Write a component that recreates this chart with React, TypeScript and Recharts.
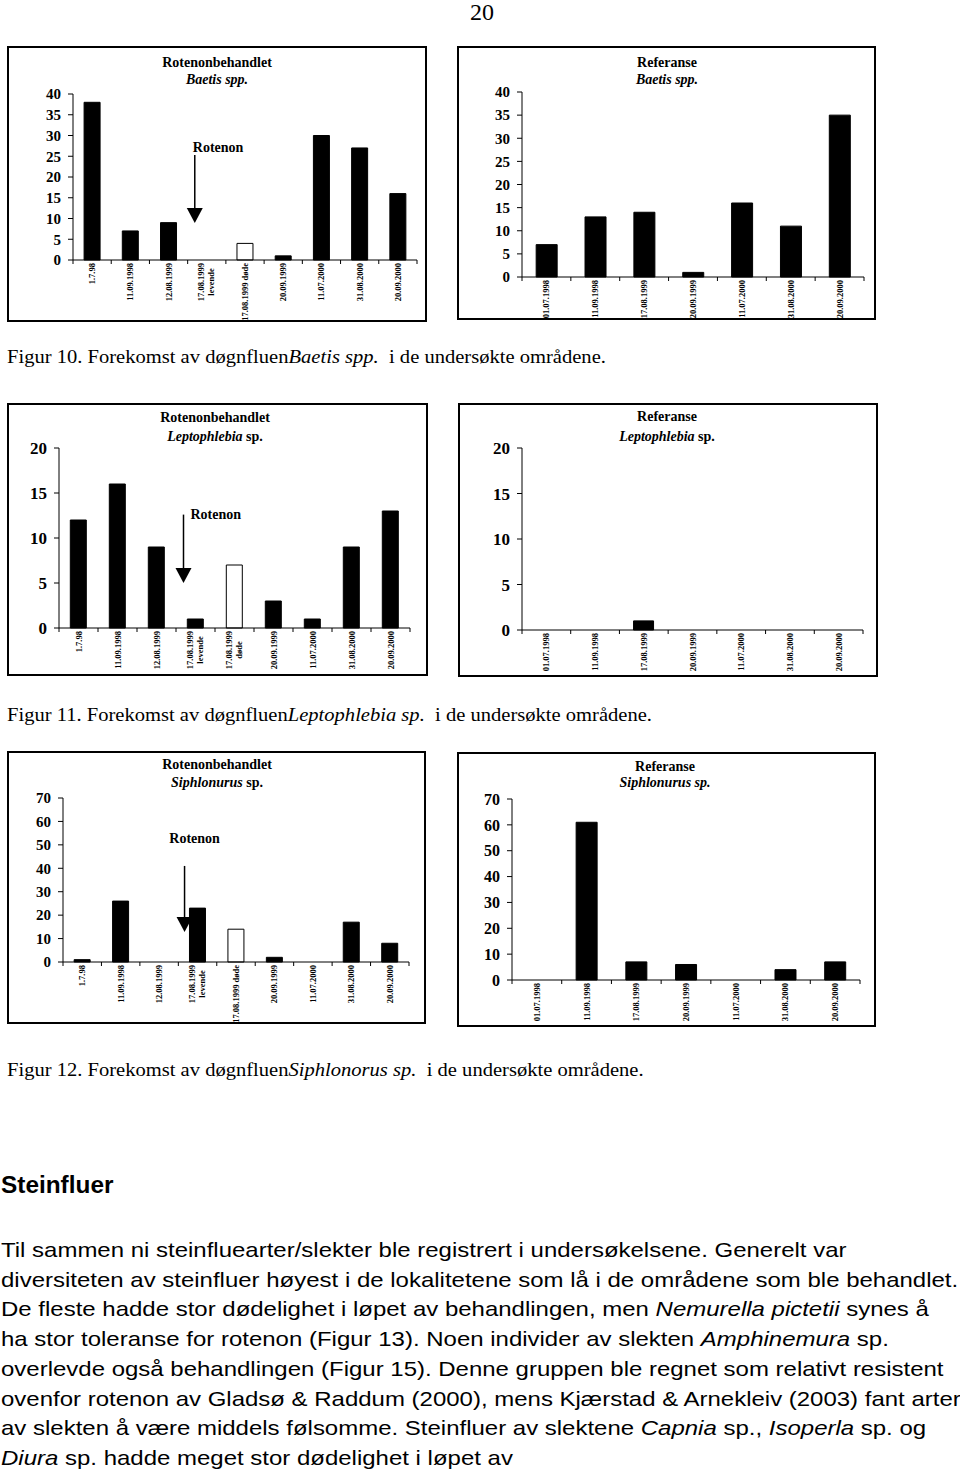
import React from 'react';
import { BarChart, Bar, XAxis, YAxis, Cell, ReferenceLine } from 'recharts';

// categories ('|' splits a label over two lines)
const rotCats = ['1.7.98', '11.09.1998', '12.08.1999', '17.08.1999|levende', '17.08.1999 døde', '20.09.1999', '11.07.2000', '31.08.2000', '20.09.2000'];
const leptoRotCats = ['1.7.98', '11.09.1998', '12.08.1999', '17.08.1999|levende', '17.08.1999|døde', '20.09.1999', '11.07.2000', '31.08.2000', '20.09.2000'];
const refCats = ['01.07.1998', '11.09.1998', '17.08.1999', '20.09.1999', '11.07.2000', '31.08.2000', '20.09.2000'];

// counts
const baetisRot = [38, 7, 9, 0, 4, 1, 30, 27, 16];
const baetisRef = [7, 13, 14, 1, 16, 11, 35];
const leptoRot = [12, 16, 9, 1, 7, 3, 1, 9, 13];
const leptoRef = [0, 0, 1, 0, 0, 0, 0];
const siphRot = [1, 26, 0, 23, 14, 2, 0, 17, 8];
const siphRef = [0, 61, 7, 6, 0, 4, 7];

const baetisTicks = [0, 5, 10, 15, 20, 25, 30, 35, 40];
const leptoTicks = [0, 5, 10, 15, 20];
const siphTicks = [0, 10, 20, 30, 40, 50, 60, 70];

const DEAD = 4; // "døde" column drawn hollow
const SERIF = '"Liberation Serif", "Times New Roman", serif';
const SANS = '"Liberation Sans", Arial, sans-serif';
const STRETCH = 'scaleX(1.142)'; // the scanned page text is a bit wide

type Frame = { x: number; y: number; w: number; h: number };
type Plot = { left: number; top: number; right: number; bottom: number };
type Arrow = { from: number; to: number; dx: number; tx: number; ty: number; anchor: 'start' | 'middle' };

const XTick = (props: any) => {
  const { x, y, payload, index, step } = props;
  const lines = String(payload.value).split('|');
  const multi = lines.length > 1;
  return (
    <g>
      {index === 0 && <line x1={x - step / 2} x2={x - step / 2} y1={y} y2={y + 4} stroke="#000" />}
      <line x1={x + step / 2} x2={x + step / 2} y1={y} y2={y + 4} stroke="#000" />
      <g transform={`translate(${x},${y + (multi ? 22 : 3)})`}>
        <text transform="rotate(-90)" textAnchor={multi ? 'middle' : 'end'} fontSize={8.5} fontWeight="bold" fontFamily={SERIF} fill="#000">
          {lines.map((l, i) => (
            <tspan key={i} x={0} dy={i === 0 ? (multi ? -3 : 3) : 10}>{l}</tspan>
          ))}
        </text>
      </g>
    </g>
  );
};

const arrowShape = (a: Arrow) => (p: any) => {
  const x = p.x1 + a.dx;
  const top = Math.min(p.y1, p.y2);
  const tip = Math.max(p.y1, p.y2);
  return (
    <g>
      <line x1={x} x2={x} y1={top} y2={tip - 12} stroke="#000" strokeWidth={1.5} />
      <polygon points={`${x - 8},${tip - 15} ${x + 8},${tip - 15} ${x},${tip}`} fill="#000" />
      <text x={x + a.tx} y={top + a.ty} textAnchor={a.anchor} dominantBaseline="central" fontSize={14} fontWeight="bold" fontFamily={SERIF} fill="#000">Rotenon</text>
    </g>
  );
};

type PanelProps = {
  frame: Frame; plot: Plot; cats: string[]; values: number[]; ticks: number[]; tickFont: number;
  head: string; species: React.ReactNode; titleX: number; titleY: [number, number]; arrow?: Arrow; dead?: boolean;
};

const Panel = ({ frame, plot, cats, values, ticks, tickFont, head, species, titleX, titleY, arrow, dead }: PanelProps) => {
  const B = 2;
  const ox = frame.x + B;
  const oy = frame.y + B;
  const w = frame.w - 2 * B;
  const h = frame.h - 2 * B;
  const yAxisW = 40;
  const step = (plot.right - plot.left) / cats.length;
  const data = cats.map((c, i) => ({ cat: c, v: values[i] }));
  const max = ticks[ticks.length - 1];
  const titleStyle: React.CSSProperties = {
    position: 'absolute', left: titleX, transform: 'translate(-50%, -50%)', fontFamily: SERIF,
    fontWeight: 'bold', fontSize: 14, lineHeight: 1, whiteSpace: 'nowrap',
  };
  return (
    <>
      <div style={{ position: 'absolute', left: frame.x, top: frame.y, width: frame.w, height: frame.h, border: `${B}px solid #000`, boxSizing: 'border-box', overflow: 'hidden' }}>
        <BarChart
          width={w}
          height={h}
          data={data}
          barCategoryGap="29%"
          margin={{ top: plot.top - oy, right: ox + w - plot.right, left: plot.left - ox - yAxisW, bottom: 0 }}
        >
          <XAxis xAxisId="top" orientation="top" dataKey="cat" height={0} tick={false} tickLine={false} axisLine={{ stroke: '#888' }} />
          <YAxis yAxisId="right" orientation="right" width={0} domain={[0, max]} ticks={ticks} tick={false} tickLine={false} axisLine={{ stroke: '#888' }} />
          <XAxis
            dataKey="cat"
            interval={0}
            height={oy + h - plot.bottom}
            tickSize={0}
            tickMargin={0}
            tickLine={false}
            axisLine={{ stroke: '#000' }}
            tick={<XTick step={step} />}
          />
          <YAxis
            width={yAxisW}
            domain={[0, max]}
            ticks={ticks}
            interval={0}
            tickSize={5}
            tickMargin={7}
            axisLine={{ stroke: '#000' }}
            tickLine={{ stroke: '#000' }}
            tick={{ fill: '#000', fontSize: tickFont, fontWeight: 'bold', fontFamily: SERIF }}
          />
          <Bar dataKey="v" isAnimationActive={false} stroke="#000" strokeWidth={1}>
            {data.map((d, i) => (
              <Cell key={d.cat} fill={dead && i === DEAD ? '#fff' : '#000'} />
            ))}
          </Bar>
          {arrow && (
            <ReferenceLine
              segment={[{ x: cats[3], y: arrow.from }, { x: cats[3], y: arrow.to }]}
              ifOverflow="visible"
              shape={arrowShape(arrow)}
            />
          )}
        </BarChart>
      </div>
      <div style={{ ...titleStyle, top: titleY[0] }}>{head}</div>
      <div style={{ ...titleStyle, top: titleY[1] }}>{species}</div>
    </>
  );
};

const Caption = ({ top, n, species }: { top: number; n: number; species: string }) => (
  <div style={{ position: 'absolute', left: 7, top, fontFamily: SERIF, fontSize: 18, lineHeight: 1, whiteSpace: 'nowrap', transform: STRETCH, transformOrigin: '0 0' }}>
    Figur {n}. Forekomst av døgnfluen<i>{species}</i>&nbsp; i de undersøkte områdene.
  </div>
);

const bodyLines: React.ReactNode[] = [
  <>Til sammen ni steinfluearter/slekter ble registrert i undersøkelsene. Generelt var</>,
  <>diversiteten av steinfluer høyest i de lokalitetene som lå i de områdene som ble behandlet.</>,
  <>De fleste hadde stor dødelighet i løpet av behandlingen, men <i>Nemurella pictetii</i> synes å</>,
  <>ha stor toleranse for rotenon (Figur 13). Noen individer av slekten <i>Amphinemura</i> sp.</>,
  <>overlevde også behandlingen (Figur 15). Denne gruppen ble regnet som relativt resistent</>,
  <>ovenfor rotenon av Gladsø &amp; Raddum (2000), mens Kjærstad &amp; Arnekleiv (2003) fant arter</>,
  <>av slekten å være middels følsomme. Steinfluer av slektene <i>Capnia</i> sp., <i>Isoperla</i> sp. og</>,
  <><i>Diura</i> sp. hadde meget stor dødelighet i løpet av</>,
];

export default function App() {
  return (
    <div style={{ position: 'absolute', left: 0, top: 0, width: 960, height: 1474, background: '#fff', overflow: 'hidden', color: '#000' }}>
      <div style={{ position: 'absolute', left: 482, top: 0, transform: 'translateX(-50%)', fontFamily: SERIF, fontSize: 24, lineHeight: 1 }}>20</div>

      <Panel
        frame={{ x: 7, y: 46, w: 420, h: 276 }}
        plot={{ left: 73, top: 94, right: 417, bottom: 260 }}
        cats={rotCats} values={baetisRot} ticks={baetisTicks} tickFont={15} dead
        head="Rotenonbehandlet" species={<i>Baetis spp.</i>} titleX={217} titleY={[63, 80]}
        arrow={{ from: 25.3, to: 8.9, dx: -12, tx: -2, ty: -8, anchor: 'start' }}
      />
      <Panel
        frame={{ x: 457, y: 46, w: 419, h: 274 }}
        plot={{ left: 522, top: 92, right: 864, bottom: 277 }}
        cats={refCats} values={baetisRef} ticks={baetisTicks} tickFont={15}
        head="Referanse" species={<i>Baetis spp.</i>} titleX={667} titleY={[63, 80]}
      />
      <Caption top={348} n={10} species="Baetis spp." />

      <Panel
        frame={{ x: 7, y: 403, w: 421, h: 273 }}
        plot={{ left: 59, top: 448, right: 410, bottom: 628 }}
        cats={leptoRotCats} values={leptoRot} ticks={leptoTicks} tickFont={17} dead
        head="Rotenonbehandlet" species={<><i>Leptophlebia</i> sp.</>} titleX={215} titleY={[418, 437]}
        arrow={{ from: 12.6, to: 5.0, dx: -12, tx: 7, ty: 0, anchor: 'start' }}
      />
      <Panel
        frame={{ x: 458, y: 403, w: 420, h: 274 }}
        plot={{ left: 522, top: 448, right: 863, bottom: 630 }}
        cats={refCats} values={leptoRef} ticks={leptoTicks} tickFont={17}
        head="Referanse" species={<><i>Leptophlebia</i> sp.</>} titleX={667} titleY={[417, 437]}
      />
      <Caption top={706} n={11} species="Leptophlebia sp." />

      <Panel
        frame={{ x: 7, y: 751, w: 419, h: 273 }}
        plot={{ left: 63, top: 798, right: 409, bottom: 962 }}
        cats={rotCats} values={siphRot} ticks={siphTicks} tickFont={15} dead
        head="Rotenonbehandlet" species={<><i>Siphlonurus</i> sp.</>} titleX={217} titleY={[765, 783]}
        arrow={{ from: 41, to: 12.8, dx: -13, tx: 10, ty: -27, anchor: 'middle' }}
      />
      <Panel
        frame={{ x: 457, y: 752, w: 419, h: 275 }}
        plot={{ left: 512, top: 799, right: 860, bottom: 980 }}
        cats={refCats} values={siphRef} ticks={siphTicks} tickFont={16}
        head="Referanse" species={<i>Siphlonurus sp.</i>} titleX={665} titleY={[767, 783]}
      />
      <Caption top={1061} n={12} species="Siphlonorus sp." />

      <div style={{ position: 'absolute', left: 1, top: 1174, fontFamily: SANS, fontWeight: 'bold', fontSize: 23, lineHeight: 1, transform: 'scaleX(1.06)', transformOrigin: '0 0' }}>Steinfluer</div>
      <div style={{ position: 'absolute', left: 1, top: 1235, fontFamily: SANS, fontSize: 21, lineHeight: '29.7px', whiteSpace: 'nowrap', transform: STRETCH, transformOrigin: '0 0' }}>
        {bodyLines.map((l, i) => (
          <div key={i}>{l}</div>
        ))}
      </div>
    </div>
  );
}
